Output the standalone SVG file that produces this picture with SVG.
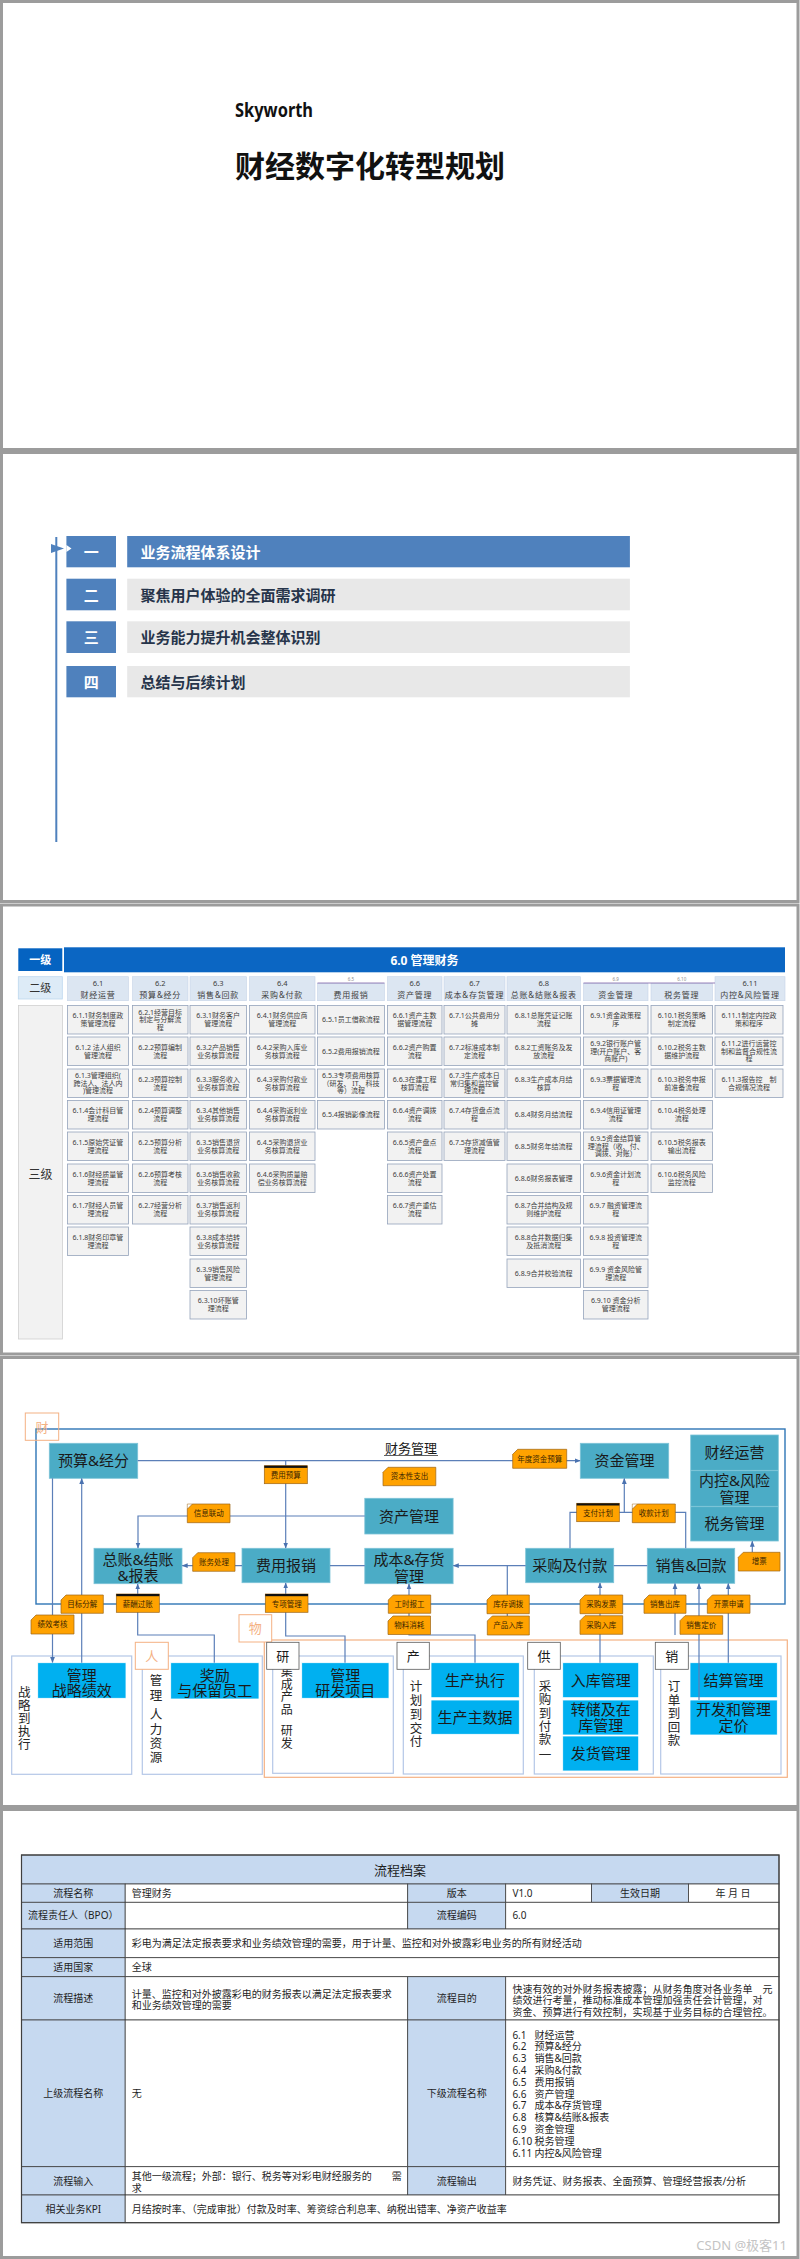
<svg xmlns="http://www.w3.org/2000/svg" width="800" height="2259" viewBox="0 0 800 2259">
<defs>
<style>
text{font-family:'Noto Sans','Noto Sans CJK SC',sans-serif;}
.slide{fill:#fff;stroke:#9c9c9c;stroke-width:3}
.cell{fill:#f2f2f2;stroke:#95a3bb;stroke-width:0.8}
.ct{font-size:7px;fill:#404040;text-anchor:middle}
.hd{fill:#dce6f2;stroke:#c6d4e8;stroke-width:0.6}
.hn{font-size:7.5px;fill:#404040;text-anchor:middle}
.hm{font-size:8px;fill:#404040;text-anchor:middle;letter-spacing:0.8px}
.hs{font-size:4.5px;fill:#8a8a8a;text-anchor:middle}
.nd{fill:#4bacc6;stroke:#7cc4d8;stroke-width:0.8}
.nt{font-size:15px;fill:#1a1a1a;text-anchor:middle}
.bb{fill:#00b0f0;stroke:#fff;stroke-width:0.8}
.tag{fill:#ffa200;stroke:#9c6417;stroke-width:0.7}
.tt{font-size:7.5px;fill:#3a2500;text-anchor:middle}
.fr{fill:none;stroke:#b4c7e7;stroke-width:1.2}
.lb{fill:#fff;stroke:#595959;stroke-width:0.8}
.lbo{fill:#fff;stroke:#f4b183;stroke-width:1}
.lt{font-size:13px;fill:#1a1a1a;text-anchor:middle}
.lto{font-size:13px;fill:#f4b183;text-anchor:middle}
.vt{font-size:12.5px;fill:#262626;text-anchor:middle}
.cn{fill:none;stroke:#5b7fb8;stroke-width:1.2}
.tl{fill:#c6d9f0;stroke:#3f3f3f;stroke-width:0.8}
.tw{fill:#fff;stroke:#3f3f3f;stroke-width:0.8}
.tx{font-size:10px;fill:#1f1f1f}
.txc{font-size:10px;fill:#1f1f1f;text-anchor:middle}
</style>
<marker id="ah" viewBox="0 0 10 10" refX="9" refY="5" markerWidth="6" markerHeight="6" markerUnits="userSpaceOnUse" orient="auto"><path d="M0,1 L10,5 L0,9 z" fill="#4a72b0"/></marker>
</defs>
<rect x="0" y="0" width="800" height="2259" fill="#fff"/>

<!-- Slide 1 -->
<g id="slide1">
<rect class="slide" x="1.5" y="1.5" width="796.5" height="448"/>
<text x="235" y="117" font-size="19" font-weight="bold" fill="#111" textLength="78" lengthAdjust="spacingAndGlyphs">Skyworth</text>
<text x="235" y="176.5" font-size="30" font-weight="bold" fill="#111">财经数字化转型规划</text>
</g>

<!-- Slide 2 -->
<g id="slide2">
<rect class="slide" x="1.5" y="452.5" width="796.5" height="449"/>
<line x1="56.3" y1="537" x2="56.3" y2="842" stroke="#4f81bd" stroke-width="2"/>
<g id="toc1">
<rect x="66.4" y="536" width="49.6" height="31.3" fill="#4f81bd"/>
<path d="M51,544 L64,548.5 L51,553 Z" fill="#4f81bd"/>
<path d="M66.4,545 L71.5,548.5 L66.4,552 Z" fill="#fff"/>
<text x="91.2" y="557.6" font-size="15" font-weight="bold" fill="#fff" text-anchor="middle">一</text>
<rect x="127.2" y="536" width="502.7" height="31.3" fill="#4f81bd"/>
<text x="140.5" y="557.6" font-size="15" font-weight="bold" fill="#fff">业务流程体系设计</text>
</g>
<g id="toc2">
<rect x="66.4" y="578.7" width="49.6" height="31.6" fill="#4f81bd"/>
<text x="91.2" y="600.5" font-size="15" font-weight="bold" fill="#fff" text-anchor="middle">二</text>
<rect x="127.2" y="578.7" width="502.7" height="31.6" fill="#e8e8e8"/>
<text x="140.5" y="600.5" font-size="15" font-weight="bold" fill="#26344a">聚焦用户体验的全面需求调研</text>
</g>
<g id="toc3">
<rect x="66.4" y="621.3" width="49.6" height="31.7" fill="#4f81bd"/>
<text x="91.2" y="643.2" font-size="15" font-weight="bold" fill="#fff" text-anchor="middle">三</text>
<rect x="127.2" y="621.3" width="502.7" height="31.7" fill="#e8e8e8"/>
<text x="140.5" y="643.2" font-size="15" font-weight="bold" fill="#26344a">业务能力提升机会整体识别</text>
</g>
<g id="toc4">
<rect x="66.4" y="666" width="49.6" height="31.3" fill="#4f81bd"/>
<text x="91.2" y="687.7" font-size="15" font-weight="bold" fill="#fff" text-anchor="middle">四</text>
<rect x="127.2" y="666" width="502.7" height="31.3" fill="#e8e8e8"/>
<text x="140.5" y="687.7" font-size="15" font-weight="bold" fill="#26344a">总结与后续计划</text>
</g>
</g>

<!-- Slide 3 -->
<g id="slide3">
<rect class="slide" x="1.5" y="905" width="796.5" height="449"/>
<g id="lv1">
<rect x="18.3" y="948.3" width="44" height="22.7" fill="#0563c1"/>
<text x="40.3" y="963.7" font-size="11" font-weight="bold" fill="#fff" text-anchor="middle">一级</text>
<rect x="64" y="947.3" width="721" height="25" fill="#0b66c3"/>
<text x="424.5" y="964.5" font-size="12" font-weight="bold" fill="#fff" text-anchor="middle">6.0 管理财务</text>
</g>
<g id="lv2">
<rect x="18.3" y="976.7" width="44" height="22.3" fill="#ddebf7" stroke="#bdd7ee" stroke-width="0.8"/>
<text x="40.3" y="991.8" font-size="11" fill="#333" text-anchor="middle">二级</text>
<rect class="hd" x="67.5" y="976.7" width="61" height="24"/><text class="hn" x="98" y="985.5">6.1</text><text class="hm" x="98" y="997.5">财经运营</text>
<rect class="hd" x="132.5" y="976.7" width="55.5" height="24"/><text class="hn" x="160.25" y="985.5">6.2</text><text class="hm" x="160.25" y="997.5">预算&amp;经分</text>
<rect class="hd" x="190" y="976.7" width="56.5" height="24"/><text class="hn" x="218.25" y="985.5">6.3</text><text class="hm" x="218.25" y="997.5">销售&amp;回款</text>
<rect class="hd" x="249.5" y="976.7" width="65.5" height="24"/><text class="hn" x="282.25" y="985.5">6.4</text><text class="hm" x="282.25" y="997.5">采购&amp;付款</text>
<rect x="317.5" y="976.7" width="67" height="6.3" fill="#fff"/><rect class="hd" x="317.5" y="983.3" width="67" height="17.4"/><text class="hs" x="351" y="981">6.5</text><text class="hm" x="351" y="997.5">费用报销</text>
<rect class="hd" x="387.5" y="976.7" width="54.5" height="24"/><text class="hn" x="414.75" y="985.5">6.6</text><text class="hm" x="414.75" y="997.5">资产管理</text>
<rect class="hd" x="444" y="976.7" width="61" height="24"/><text class="hn" x="474.5" y="985.5">6.7</text><text class="hm" x="474.5" y="997.5">成本&amp;存货管理</text>
<rect class="hd" x="507" y="976.7" width="73.5" height="24"/><text class="hn" x="543.75" y="985.5">6.8</text><text class="hm" x="543.75" y="997.5">总账&amp;结账&amp;报表</text>
<rect x="583.5" y="976.7" width="64.5" height="6.3" fill="#fff"/><rect class="hd" x="583.5" y="983.3" width="64.5" height="17.4"/><text class="hs" x="615.75" y="981">6.9</text><text class="hm" x="615.75" y="997.5">资金管理</text>
<rect x="651" y="976.7" width="61.5" height="6.3" fill="#fff"/><rect class="hd" x="651" y="983.3" width="61.5" height="17.4"/><text class="hs" x="681.75" y="981">6.10</text><text class="hm" x="681.75" y="997.5">税务管理</text>
<rect class="hd" x="715" y="976.7" width="70" height="24"/><text class="hn" x="750" y="985.5">6.11</text><text class="hm" x="750" y="997.5">内控&amp;风险管理</text>
<line x1="317.5" y1="983" x2="384.5" y2="983" stroke="#7f62a8" stroke-width="0.8"/>
<line x1="583.5" y1="983" x2="715" y2="983" stroke="#7f62a8" stroke-width="0.8"/>
</g>
<g id="lv3">
<rect x="18.5" y="1005.5" width="44" height="333.5" fill="#f2f2f2" stroke="#d0d0d0" stroke-width="0.8"/>
<text x="40.5" y="1179" font-size="12" fill="#333" text-anchor="middle">三级</text>
<!-- col 6.1 -->
<rect class="cell" x="67.5" y="1005.5" width="61" height="28.5"/><text class="ct" x="98" y="1018.25">6.1.1财务制度政<tspan x="98" dy="8">策管理流程</tspan></text>
<rect class="cell" x="67.5" y="1037" width="61" height="28.5"/><text class="ct" x="98" y="1049.75">6.1.2 法人组织<tspan x="98" dy="8">管理流程</tspan></text>
<rect class="cell" x="67.5" y="1069" width="61" height="28.5"/><text class="ct" x="98" y="1078.25">6.1.3管理组织(<tspan x="98" dy="7.5">跨法人、法人内</tspan><tspan x="98" dy="7.5">)管理流程</tspan></text>
<rect class="cell" x="67.5" y="1100.5" width="61" height="28.5"/><text class="ct" x="98" y="1113.25">6.1.4会计科目管<tspan x="98" dy="8">理流程</tspan></text>
<rect class="cell" x="67.5" y="1132" width="61" height="28.5"/><text class="ct" x="98" y="1144.75">6.1.5原始凭证管<tspan x="98" dy="8">理流程</tspan></text>
<rect class="cell" x="67.5" y="1164" width="61" height="28.5"/><text class="ct" x="98" y="1176.75">6.1.6财经质量管<tspan x="98" dy="8">理流程</tspan></text>
<rect class="cell" x="67.5" y="1195.5" width="61" height="28.5"/><text class="ct" x="98" y="1208.25">6.1.7财经人员管<tspan x="98" dy="8">理流程</tspan></text>
<rect class="cell" x="67.5" y="1227" width="61" height="28.5"/><text class="ct" x="98" y="1239.75">6.1.8财务印章管<tspan x="98" dy="8">理流程</tspan></text>
<!-- col 6.2 -->
<rect class="cell" x="132.5" y="1005.5" width="55.5" height="28.5"/><text class="ct" x="160.25" y="1014.75">6.2.1经营目标<tspan x="160.25" dy="7.5">制定与分解流</tspan><tspan x="160.25" dy="7.5">程</tspan></text>
<rect class="cell" x="132.5" y="1037" width="55.5" height="28.5"/><text class="ct" x="160.25" y="1049.75">6.2.2预算编制<tspan x="160.25" dy="8">流程</tspan></text>
<rect class="cell" x="132.5" y="1069" width="55.5" height="28.5"/><text class="ct" x="160.25" y="1081.75">6.2.3预算控制<tspan x="160.25" dy="8">流程</tspan></text>
<rect class="cell" x="132.5" y="1100.5" width="55.5" height="28.5"/><text class="ct" x="160.25" y="1113.25">6.2.4预算调整<tspan x="160.25" dy="8">流程</tspan></text>
<rect class="cell" x="132.5" y="1132" width="55.5" height="28.5"/><text class="ct" x="160.25" y="1144.75">6.2.5预算分析<tspan x="160.25" dy="8">流程</tspan></text>
<rect class="cell" x="132.5" y="1164" width="55.5" height="28.5"/><text class="ct" x="160.25" y="1176.75">6.2.6预算考核<tspan x="160.25" dy="8">流程</tspan></text>
<rect class="cell" x="132.5" y="1195.5" width="55.5" height="28.5"/><text class="ct" x="160.25" y="1208.25">6.2.7经营分析<tspan x="160.25" dy="8">流程</tspan></text>
<!-- col 6.3 -->
<rect class="cell" x="190" y="1005.5" width="56.5" height="28.5"/><text class="ct" x="218.25" y="1018.25">6.3.1财务客户<tspan x="218.25" dy="8">管理流程</tspan></text>
<rect class="cell" x="190" y="1037" width="56.5" height="28.5"/><text class="ct" x="218.25" y="1049.75">6.3.2产品销售<tspan x="218.25" dy="8">业务核算流程</tspan></text>
<rect class="cell" x="190" y="1069" width="56.5" height="28.5"/><text class="ct" x="218.25" y="1081.75">6.3.3服务收入<tspan x="218.25" dy="8">业务核算流程</tspan></text>
<rect class="cell" x="190" y="1100.5" width="56.5" height="28.5"/><text class="ct" x="218.25" y="1113.25">6.3.4其他销售<tspan x="218.25" dy="8">业务核算流程</tspan></text>
<rect class="cell" x="190" y="1132" width="56.5" height="28.5"/><text class="ct" x="218.25" y="1144.75">6.3.5销售退货<tspan x="218.25" dy="8">业务核算流程</tspan></text>
<rect class="cell" x="190" y="1164" width="56.5" height="28.5"/><text class="ct" x="218.25" y="1176.75">6.3.6销售收款<tspan x="218.25" dy="8">业务核算流程</tspan></text>
<rect class="cell" x="190" y="1195.5" width="56.5" height="28.5"/><text class="ct" x="218.25" y="1208.25">6.3.7销售返利<tspan x="218.25" dy="8">业务核算流程</tspan></text>
<rect class="cell" x="190" y="1227" width="56.5" height="28.5"/><text class="ct" x="218.25" y="1239.75">6.3.8成本结转<tspan x="218.25" dy="8">业务核算流程</tspan></text>
<rect class="cell" x="190" y="1259" width="56.5" height="28.5"/><text class="ct" x="218.25" y="1271.75">6.3.9销售风险<tspan x="218.25" dy="8">管理流程</tspan></text>
<rect class="cell" x="190" y="1290.5" width="56.5" height="28.5"/><text class="ct" x="218.25" y="1303.25">6.3.10坏账管<tspan x="218.25" dy="8">理流程</tspan></text>
<!-- col 6.4 -->
<rect class="cell" x="249.5" y="1005.5" width="65.5" height="28.5"/><text class="ct" x="282.25" y="1018.25">6.4.1财务供应商<tspan x="282.25" dy="8">管理流程</tspan></text>
<rect class="cell" x="249.5" y="1037" width="65.5" height="28.5"/><text class="ct" x="282.25" y="1049.75">6.4.2采购入库业<tspan x="282.25" dy="8">务核算流程</tspan></text>
<rect class="cell" x="249.5" y="1069" width="65.5" height="28.5"/><text class="ct" x="282.25" y="1081.75">6.4.3采购付款业<tspan x="282.25" dy="8">务核算流程</tspan></text>
<rect class="cell" x="249.5" y="1100.5" width="65.5" height="28.5"/><text class="ct" x="282.25" y="1113.25">6.4.4采购返利业<tspan x="282.25" dy="8">务核算流程</tspan></text>
<rect class="cell" x="249.5" y="1132" width="65.5" height="28.5"/><text class="ct" x="282.25" y="1144.75">6.4.5采购退货业<tspan x="282.25" dy="8">务核算流程</tspan></text>
<rect class="cell" x="249.5" y="1164" width="65.5" height="28.5"/><text class="ct" x="282.25" y="1176.75">6.4.6采购质量赔<tspan x="282.25" dy="8">偿业务核算流程</tspan></text>
<!-- col 6.5 -->
<rect class="cell" x="317.5" y="1005.5" width="67" height="28.5"/><text class="ct" x="351" y="1022.25">6.5.1员工借款流程</text>
<rect class="cell" x="317.5" y="1037" width="67" height="28.5"/><text class="ct" x="351" y="1053.75">6.5.2费用报销流程</text>
<rect class="cell" x="317.5" y="1069" width="67" height="28.5"/><text class="ct" x="351" y="1078.25">6.5.3专项费用核算<tspan x="351" dy="7.5">（研发、 IT、科技</tspan><tspan x="351" dy="7.5">等）流程</tspan></text>
<rect class="cell" x="317.5" y="1100.5" width="67" height="28.5"/><text class="ct" x="351" y="1117.25">6.5.4报销影像流程</text>
<!-- col 6.6 -->
<rect class="cell" x="387.5" y="1005.5" width="54.5" height="28.5"/><text class="ct" x="414.75" y="1018.25">6.6.1资产主数<tspan x="414.75" dy="8">据管理流程</tspan></text>
<rect class="cell" x="387.5" y="1037" width="54.5" height="28.5"/><text class="ct" x="414.75" y="1049.75">6.6.2资产购置<tspan x="414.75" dy="8">流程</tspan></text>
<rect class="cell" x="387.5" y="1069" width="54.5" height="28.5"/><text class="ct" x="414.75" y="1081.75">6.6.3在建工程<tspan x="414.75" dy="8">核算流程</tspan></text>
<rect class="cell" x="387.5" y="1100.5" width="54.5" height="28.5"/><text class="ct" x="414.75" y="1113.25">6.6.4资产调拨<tspan x="414.75" dy="8">流程</tspan></text>
<rect class="cell" x="387.5" y="1132" width="54.5" height="28.5"/><text class="ct" x="414.75" y="1144.75">6.6.5资产盘点<tspan x="414.75" dy="8">流程</tspan></text>
<rect class="cell" x="387.5" y="1164" width="54.5" height="28.5"/><text class="ct" x="414.75" y="1176.75">6.6.6资产处置<tspan x="414.75" dy="8">流程</tspan></text>
<rect class="cell" x="387.5" y="1195.5" width="54.5" height="28.5"/><text class="ct" x="414.75" y="1208.25">6.6.7资产重估<tspan x="414.75" dy="8">流程</tspan></text>
<!-- col 6.7 -->
<rect class="cell" x="444" y="1005.5" width="61" height="28.5"/><text class="ct" x="474.5" y="1018.25">6.7.1公共费用分<tspan x="474.5" dy="8">摊</tspan></text>
<rect class="cell" x="444" y="1037" width="61" height="28.5"/><text class="ct" x="474.5" y="1049.75">6.7.2标准成本制<tspan x="474.5" dy="8">定流程</tspan></text>
<rect class="cell" x="444" y="1069" width="61" height="28.5"/><text class="ct" x="474.5" y="1078.25">6.7.3生产成本日<tspan x="474.5" dy="7.5">常归集和监控管</tspan><tspan x="474.5" dy="7.5">理流程</tspan></text>
<rect class="cell" x="444" y="1100.5" width="61" height="28.5"/><text class="ct" x="474.5" y="1113.25">6.7.4存货盘点流<tspan x="474.5" dy="8">程</tspan></text>
<rect class="cell" x="444" y="1132" width="61" height="28.5"/><text class="ct" x="474.5" y="1144.75">6.7.5存货减值管<tspan x="474.5" dy="8">理流程</tspan></text>
<!-- col 6.8 -->
<rect class="cell" x="507" y="1005.5" width="73.5" height="28.5"/><text class="ct" x="543.75" y="1018.25">6.8.1总账凭证记账<tspan x="543.75" dy="8">流程</tspan></text>
<rect class="cell" x="507" y="1037" width="73.5" height="28.5"/><text class="ct" x="543.75" y="1049.75">6.8.2工资账务及发<tspan x="543.75" dy="8">放流程</tspan></text>
<rect class="cell" x="507" y="1069" width="73.5" height="28.5"/><text class="ct" x="543.75" y="1081.75">6.8.3生产成本月结<tspan x="543.75" dy="8">核算</tspan></text>
<rect class="cell" x="507" y="1100.5" width="73.5" height="28.5"/><text class="ct" x="543.75" y="1117.25">6.8.4财务月结流程</text>
<rect class="cell" x="507" y="1132" width="73.5" height="28.5"/><text class="ct" x="543.75" y="1148.75">6.8.5财务年结流程</text>
<rect class="cell" x="507" y="1164" width="73.5" height="28.5"/><text class="ct" x="543.75" y="1180.75">6.8.6财务报表管理</text>
<rect class="cell" x="507" y="1195.5" width="73.5" height="28.5"/><text class="ct" x="543.75" y="1208.25">6.8.7合并结构及规<tspan x="543.75" dy="8">则维护流程</tspan></text>
<rect class="cell" x="507" y="1227" width="73.5" height="28.5"/><text class="ct" x="543.75" y="1239.75">6.8.8合并数据归集<tspan x="543.75" dy="8">及抵消流程</tspan></text>
<rect class="cell" x="507" y="1259" width="73.5" height="28.5"/><text class="ct" x="543.75" y="1275.75">6.8.9合并校验流程</text>
<!-- col 6.9 -->
<rect class="cell" x="583.5" y="1005.5" width="64.5" height="28.5"/><text class="ct" x="615.75" y="1018.25">6.9.1资金政策程<tspan x="615.75" dy="8">序</tspan></text>
<rect class="cell" x="583.5" y="1037" width="64.5" height="28.5"/><text class="ct" x="615.75" y="1046.25">6.9.2银行账户管<tspan x="615.75" dy="7.5">理(开户账户、客</tspan><tspan x="615.75" dy="7.5">商账户)</tspan></text>
<rect class="cell" x="583.5" y="1069" width="64.5" height="28.5"/><text class="ct" x="615.75" y="1081.75">6.9.3票据管理流<tspan x="615.75" dy="8">程</tspan></text>
<rect class="cell" x="583.5" y="1100.5" width="64.5" height="28.5"/><text class="ct" x="615.75" y="1113.25">6.9.4信用证管理<tspan x="615.75" dy="8">流程</tspan></text>
<rect class="cell" x="583.5" y="1132" width="64.5" height="28.5"/><text class="ct" x="615.75" y="1141.25">6.9.5资金结算管<tspan x="615.75" dy="7.5">理流程（收、付、</tspan><tspan x="615.75" dy="7.5">调拨、对账）</tspan></text>
<rect class="cell" x="583.5" y="1164" width="64.5" height="28.5"/><text class="ct" x="615.75" y="1176.75">6.9.6资金计划流<tspan x="615.75" dy="8">程</tspan></text>
<rect class="cell" x="583.5" y="1195.5" width="64.5" height="28.5"/><text class="ct" x="615.75" y="1208.25">6.9.7 融资管理流<tspan x="615.75" dy="8">程</tspan></text>
<rect class="cell" x="583.5" y="1227" width="64.5" height="28.5"/><text class="ct" x="615.75" y="1239.75">6.9.8 投资管理流<tspan x="615.75" dy="8">程</tspan></text>
<rect class="cell" x="583.5" y="1259" width="64.5" height="28.5"/><text class="ct" x="615.75" y="1271.75">6.9.9 资金风险管<tspan x="615.75" dy="8">理流程</tspan></text>
<rect class="cell" x="583.5" y="1290.5" width="64.5" height="28.5"/><text class="ct" x="615.75" y="1303.25">6.9.10 资金分析<tspan x="615.75" dy="8">管理流程</tspan></text>
<!-- col 6.10 -->
<rect class="cell" x="651" y="1005.5" width="61.5" height="28.5"/><text class="ct" x="681.75" y="1018.25">6.10.1税务策略<tspan x="681.75" dy="8">制定流程</tspan></text>
<rect class="cell" x="651" y="1037" width="61.5" height="28.5"/><text class="ct" x="681.75" y="1049.75">6.10.2税务主数<tspan x="681.75" dy="8">据维护流程</tspan></text>
<rect class="cell" x="651" y="1069" width="61.5" height="28.5"/><text class="ct" x="681.75" y="1081.75">6.10.3税务申报<tspan x="681.75" dy="8">前准备流程</tspan></text>
<rect class="cell" x="651" y="1100.5" width="61.5" height="28.5"/><text class="ct" x="681.75" y="1113.25">6.10.4税务处理<tspan x="681.75" dy="8">流程</tspan></text>
<rect class="cell" x="651" y="1132" width="61.5" height="28.5"/><text class="ct" x="681.75" y="1144.75">6.10.5税务报表<tspan x="681.75" dy="8">输出流程</tspan></text>
<rect class="cell" x="651" y="1164" width="61.5" height="28.5"/><text class="ct" x="681.75" y="1176.75">6.10.6税务风险<tspan x="681.75" dy="8">监控流程</tspan></text>
<!-- col 6.11 -->
<rect class="cell" x="715" y="1005.5" width="68" height="28.5"/><text class="ct" x="749" y="1018.25">6.11.1制定内控政<tspan x="749" dy="8">策和程序</tspan></text>
<rect class="cell" x="715" y="1037" width="68" height="28.5"/><text class="ct" x="749" y="1046.25">6.11.2进行运营控<tspan x="749" dy="7.5">制和监督合规性流</tspan><tspan x="749" dy="7.5">程</tspan></text>
<rect class="cell" x="715" y="1069" width="68" height="28.5"/><text class="ct" x="749" y="1081.75">6.11.3报告控　制<tspan x="749" dy="8">合规情况流程</tspan></text>
</g>
</g>

<!-- Slide 4 -->
<g id="slide4">
<rect class="slide" x="1.5" y="1357.5" width="796.5" height="449"/>
<rect x="36" y="1429" width="749" height="175" fill="none" stroke="#2e75b6" stroke-width="1.4"/>
<g id="lbl-cai"><rect x="25.3" y="1413" width="33.4" height="27.3" fill="none" stroke="#f4b183" stroke-width="1"/><text class="lto" x="42" y="1431.5">财</text></g>
<text x="411" y="1453" font-size="13" fill="#1a1a1a" text-anchor="middle">财务管理</text>
<line x1="384" y1="1455.5" x2="438" y2="1455.5" stroke="#1a1a1a" stroke-width="0.7"/>

<!-- lower frames -->
<rect x="264.3" y="1640" width="523" height="137.3" fill="none" stroke="#f4b183" stroke-width="1.2"/>
<g id="f-strategy"><rect class="fr" x="11.7" y="1656" width="120" height="118.3"/>
<text class="vt"><tspan x="24.3" y="1697">战</tspan><tspan x="24.3" y="1710">略</tspan><tspan x="24.3" y="1723">到</tspan><tspan x="24.3" y="1736">执</tspan><tspan x="24.3" y="1749">行</tspan></text>
<rect class="bb" x="37.7" y="1662.7" width="88.3" height="35.6"/><text class="nt" x="81.8" y="1680.5">管理<tspan x="81.8" y="1696">战略绩效</tspan></text></g>
<g id="f-hr"><rect class="fr" x="142.3" y="1656" width="120" height="118.3"/>
<text class="vt"><tspan x="156" y="1684.5">管</tspan><tspan x="156" y="1699.5">理</tspan><tspan x="156" y="1719">人</tspan><tspan x="156" y="1733.5">力</tspan><tspan x="156" y="1748">资</tspan><tspan x="156" y="1762">源</tspan></text>
<rect class="bb" x="170.7" y="1662.7" width="88.3" height="36.3"/><text class="nt" x="214.8" y="1680.5">奖励<tspan x="214.8" y="1696">与保留员工</tspan></text></g>
<g id="lbl-ren"><rect class="lbo" x="135.3" y="1642.3" width="33" height="27"/><text class="lto" x="151.8" y="1660.5">人</text></g>
<g id="lbl-wu"><rect class="lbo" x="239" y="1614.7" width="32.7" height="27.3"/><text class="lto" x="255.3" y="1633">物</text></g>
<g id="f-rd"><rect class="fr" x="272.7" y="1656" width="120.6" height="117.3"/>
<text class="vt" style="font-size:12px"><tspan x="286.7" y="1676">集</tspan><tspan x="286.7" y="1688.5">成</tspan><tspan x="286.7" y="1701">产</tspan><tspan x="286.7" y="1713.5">品</tspan><tspan x="286.7" y="1735">研</tspan><tspan x="286.7" y="1748">发</tspan></text>
<rect class="bb" x="301.7" y="1662.7" width="87.3" height="35.6"/><text class="nt" x="345.3" y="1680.5">管理<tspan x="345.3" y="1696">研发项目</tspan></text></g>
<g id="lbl-yan"><rect class="lb" x="266.7" y="1642.3" width="32.3" height="27"/><text class="lt" x="282.8" y="1660.5">研</text></g>
<g id="f-plan"><rect class="fr" x="403.3" y="1656" width="120" height="118"/>
<text class="vt"><tspan x="416" y="1691">计</tspan><tspan x="416" y="1704.5">划</tspan><tspan x="416" y="1719">到</tspan><tspan x="416" y="1732.5">交</tspan><tspan x="416" y="1746">付</tspan></text>
<rect class="bb" x="431" y="1662.7" width="88.3" height="35"/><text class="nt" x="475.1" y="1685.5">生产执行</text>
<rect class="bb" x="431" y="1700" width="88.3" height="34.3"/><text class="nt" x="475.1" y="1722.5">生产主数据</text></g>
<g id="lbl-chan"><rect class="lb" x="397" y="1642.3" width="32.3" height="27"/><text class="lt" x="413.2" y="1660.5">产</text></g>
<g id="f-proc"><rect class="fr" x="534.3" y="1656" width="119" height="118"/>
<text class="vt"><tspan x="545" y="1691">采</tspan><tspan x="545" y="1704">购</tspan><tspan x="545" y="1717.5">到</tspan><tspan x="545" y="1731">付</tspan><tspan x="545" y="1744">款</tspan><tspan x="545" y="1758">—</tspan></text>
<rect class="bb" x="562.7" y="1662.7" width="76" height="35"/><text class="nt" x="600.7" y="1685.5">入库管理</text>
<rect class="bb" x="562.7" y="1700" width="76" height="35"/><text class="nt" x="600.7" y="1715">转储及在<tspan x="600.7" y="1731">库管理</tspan></text>
<rect class="bb" x="562.7" y="1736" width="76" height="35"/><text class="nt" x="600.7" y="1758.5">发货管理</text></g>
<g id="lbl-gong"><rect class="lb" x="527.7" y="1642.3" width="32.6" height="27"/><text class="lt" x="544" y="1660.5">供</text></g>
<g id="f-order"><rect class="fr" x="660.7" y="1656" width="120.3" height="118"/>
<text class="vt"><tspan x="674" y="1691">订</tspan><tspan x="674" y="1704.5">单</tspan><tspan x="674" y="1718">到</tspan><tspan x="674" y="1731.5">回</tspan><tspan x="674" y="1745">款</tspan></text>
<rect class="bb" x="690" y="1662.7" width="87.3" height="35"/><text class="nt" x="733.6" y="1685.5">结算管理</text>
<rect class="bb" x="690" y="1700" width="87.3" height="35"/><text class="nt" x="733.6" y="1715">开发和管理<tspan x="733.6" y="1731">定价</tspan></text></g>
<g id="lbl-xiao"><rect class="lb" x="655.3" y="1642.3" width="33" height="27"/><text class="lt" x="671.8" y="1660.5">销</text></g>

<!-- main nodes -->
<g id="n-budget"><rect class="nd" x="49.3" y="1443.3" width="88.4" height="35"/><text class="nt" x="93.5" y="1466.3">预算&amp;经分</text></g>
<g id="n-gl"><rect class="nd" x="94" y="1548.3" width="88" height="35.4"/><text class="nt" x="138" y="1565">总账&amp;结账<tspan x="138" y="1580.5">&amp;报表</tspan></text></g>
<g id="n-expense"><rect class="nd" x="242" y="1548.3" width="88" height="34.4"/><text class="nt" x="286" y="1571">费用报销</text></g>
<g id="n-asset"><rect class="nd" x="364.8" y="1498.3" width="88.3" height="35.7"/><text class="nt" x="409" y="1521.5">资产管理</text></g>
<g id="n-cost"><rect class="nd" x="364.8" y="1548.3" width="88.3" height="35.4"/><text class="nt" x="409" y="1565">成本&amp;存货<tspan x="409" y="1581.5">管理</tspan></text></g>
<g id="n-purchase"><rect class="nd" x="525.7" y="1548.3" width="88" height="34.4"/><text class="nt" x="569.7" y="1571">采购及付款</text></g>
<g id="n-sales"><rect class="nd" x="647.3" y="1548.3" width="87.4" height="35"/><text class="nt" x="691" y="1571">销售&amp;回款</text></g>
<g id="n-fund"><rect class="nd" x="580.3" y="1443.3" width="88.4" height="35"/><text class="nt" x="624.5" y="1466.3">资金管理</text></g>
<g id="n-ops"><rect class="nd" x="690.7" y="1435" width="87.6" height="35.3"/><text class="nt" x="734.5" y="1458">财经运营</text></g>
<g id="n-risk"><rect class="nd" x="690.7" y="1470.7" width="87.6" height="35.6"/><text class="nt" x="734.5" y="1486">内控&amp;风险<tspan x="734.5" y="1502.5">管理</tspan></text></g>
<g id="n-tax"><rect class="nd" x="690.7" y="1506.7" width="87.6" height="34.3"/><text class="nt" x="734.5" y="1529.3">税务管理</text></g>

<!-- connectors -->
<g id="connectors">
<path class="cn" d="M137.7,1460.7 H580" marker-end="url(#ah)"/>
<path class="cn" d="M285.7,1460.7 V1548" marker-end="url(#ah)"/>
<path class="cn" d="M364.8,1516 H138 V1548" marker-end="url(#ah)"/>
<path class="cn" d="M242,1565.7 H182.3" marker-end="url(#ah)"/>
<path class="cn" d="M330,1565.7 H364.8"/>
<path class="cn" d="M525.7,1565.7 H453.4" marker-end="url(#ah)"/>
<path class="cn" d="M613.7,1565.7 H647.3"/>
<path class="cn" d="M570,1548.3 V1512.3 H685.7 V1548.3"/>
<path class="cn" d="M624.3,1512.3 V1478.6" marker-end="url(#ah)"/>
<path class="cn" d="M752.3,1552.3 V1541.3" marker-end="url(#ah)"/>
<path class="cn" d="M52.5,1478.3 V1662.4" marker-end="url(#ah)"/>
<path class="cn" d="M81.7,1662.7 V1478.6" marker-end="url(#ah)"/>
<path class="cn" d="M214.3,1662.7 V1635 H137.7 V1584" marker-end="url(#ah)"/>
<path class="cn" d="M345,1662.7 V1636 H285.7 V1583" marker-end="url(#ah)"/>
<path class="cn" d="M475,1662.7 V1635 H409 V1584" marker-end="url(#ah)"/>
<path class="cn" d="M507.3,1565.7 V1635"/>
<path class="cn" d="M600,1662.7 V1583" marker-end="url(#ah)"/>
<path class="cn" d="M675,1635 V1583.6" marker-end="url(#ah)"/>
<path class="cn" d="M699,1700 V1583.6" marker-end="url(#ah)"/>
<path class="cn" d="M728.3,1662.7 V1583.6" marker-end="url(#ah)"/>
</g>

<!-- tags -->
<g id="tags">
<g id="t1"><rect class="tag" x="264.3" y="1465.7" width="43" height="18"/><rect x="264.3" y="1465.7" width="43" height="2.2" fill="#111"/><text class="tt" x="285.8" y="1478.3">费用预算</text></g>
<g id="t2"><path class="tag" d="M388,1467.3 H435.8 V1485.7 H383 V1472.3 Z"/><text class="tt" x="409.4" y="1479.3">资本性支出</text></g>
<g id="t3"><path class="tag" d="M192.3,1504 H230 V1522.7 H187.3 V1509 Z"/><path d="M187.3,1504 L192.3,1504 L187.3,1509 Z" fill="#fff" stroke="#9c6417" stroke-width="0.5"/><text class="tt" x="208.7" y="1516">信息联动</text></g>
<g id="t4"><path class="tag" d="M197.7,1552.7 H235 V1571.3 H192.7 V1557.7 Z"/><text class="tt" x="213.9" y="1564.8">账务处理</text></g>
<g id="t5"><path class="tag" d="M517.7,1449.3 H566.7 V1468.3 H512.7 V1454.3 Z"/><text class="tt" x="539.7" y="1461.5">年度资金预算</text></g>
<g id="t6"><rect class="tag" x="576.7" y="1503.3" width="42.6" height="18.4"/><rect x="576.7" y="1503.3" width="42.6" height="2.2" fill="#111"/><text class="tt" x="598" y="1515.8">支付计划</text></g>
<g id="t7"><path class="tag" d="M637.3,1504 H675.3 V1522.7 H632.3 V1509 Z"/><path d="M632.3,1504 L637.3,1504 L632.3,1509 Z" fill="#fff" stroke="#9c6417" stroke-width="0.5"/><text class="tt" x="653.8" y="1516">收款计划</text></g>
<g id="t8"><path class="tag" d="M743.3,1552.3 H780 V1571 H738.3 V1557.3 Z"/><text class="tt" x="759.2" y="1564.4">增票</text></g>
<g id="t9"><path class="tag" d="M66,1595 H103.3 V1613.3 H61 V1600 Z"/><text class="tt" x="82.2" y="1607">目标分解</text></g>
<g id="t10"><rect class="tag" x="116.3" y="1594" width="43" height="18.3"/><rect x="116.3" y="1594" width="43" height="2.2" fill="#111"/><text class="tt" x="137.8" y="1606.5">薪酬过账</text></g>
<g id="t11"><path class="tag" d="M36,1615 H74 V1634 H31 V1620 Z"/><text class="tt" x="52.5" y="1627.3">绩效考核</text></g>
<g id="t12"><rect class="tag" x="265.3" y="1594" width="42.7" height="18.3"/><rect x="265.3" y="1594" width="42.7" height="2.2" fill="#111"/><text class="tt" x="286.7" y="1606.5">专项管理</text></g>
<g id="t13"><path class="tag" d="M393.3,1595 H430.7 V1613.3 H388.3 V1600 Z"/><text class="tt" x="409.5" y="1607">工时报工</text></g>
<g id="t14"><path class="tag" d="M393,1616 H430.5 V1634.5 H388 V1621 Z"/><text class="tt" x="409.2" y="1628">物料消耗</text></g>
<g id="t15"><path class="tag" d="M492,1595 H529.3 V1613.7 H487 V1600 Z"/><text class="tt" x="508.2" y="1607">库存调拨</text></g>
<g id="t16"><path class="tag" d="M492.3,1616 H529.3 V1635 H487.3 V1621 Z"/><text class="tt" x="508.3" y="1628.3">产品入库</text></g>
<g id="t17"><path class="tag" d="M585,1595 H622.7 V1613.7 H580 V1600 Z"/><text class="tt" x="601.3" y="1607">采购发票</text></g>
<g id="t18"><path class="tag" d="M585,1615.7 H622.7 V1634.3 H580 V1620.7 Z"/><text class="tt" x="601.3" y="1627.8">采购入库</text></g>
<g id="t19"><path class="tag" d="M649,1595 H686 V1613.3 H644 V1600 Z"/><text class="tt" x="665" y="1607">销售出库</text></g>
<g id="t20"><path class="tag" d="M712.3,1595 H750 V1613.3 H707.3 V1600 Z"/><text class="tt" x="728.7" y="1607">开票申请</text></g>
<g id="t21"><path class="tag" d="M685,1615.7 H722.7 V1634.3 H680 V1620.7 Z"/><text class="tt" x="701.3" y="1627.8">销售定价</text></g>
</g>
</g>

<!-- Slide 5 -->
<g id="slide5">
<rect class="slide" x="1.5" y="1809.5" width="796.5" height="448"/>
<rect class="tl" x="21.5" y="1855" width="757.5" height="29"/>
<text x="400" y="1874.5" font-size="13" fill="#1f1f1f" text-anchor="middle">流程档案</text>
<rect class="tl" x="21.5" y="1884" width="103.7" height="18.3"/><text class="txc" x="73.3" y="1896.8">流程名称</text>
<rect class="tw" x="125.2" y="1884" width="282.5" height="18.3"/><text class="tx" x="131.8" y="1896.8">管理财务</text>
<rect class="tl" x="407.7" y="1884" width="98" height="18.3"/><text class="txc" x="456.7" y="1896.8">版本</text>
<rect class="tw" x="505.7" y="1884" width="85.9" height="18.3"/><text class="tx" x="512.4" y="1896.8">V1.0</text>
<rect class="tl" x="591.6" y="1884" width="97" height="18.3"/><text class="txc" x="640.1" y="1896.8">生效日期</text>
<rect class="tw" x="688.6" y="1884" width="90.4" height="18.3"/><text class="txc" x="733" y="1896.8">年  月  日</text>
<rect class="tl" x="21.5" y="1902.3" width="103.7" height="26.7"/><text class="txc" x="73.3" y="1919.3">流程责任人（BPO）</text>
<rect class="tw" x="125.2" y="1902.3" width="282.5" height="26.7"/>
<rect class="tl" x="407.7" y="1902.3" width="98" height="26.7"/><text class="txc" x="456.7" y="1919.3">流程编码</text>
<rect class="tw" x="505.7" y="1902.3" width="273.3" height="26.7"/><text class="tx" x="512.4" y="1919.3">6.0</text>
<rect class="tl" x="21.5" y="1929" width="103.7" height="28.7"/><text class="txc" x="73.3" y="1947">适用范围</text>
<rect class="tw" x="125.2" y="1929" width="653.8" height="28.7"/><text class="tx" x="131.8" y="1947">彩电为满足法定报表要求和业务绩效管理的需要，用于计量、监控和对外披露彩电业务的所有财经活动</text>
<rect class="tl" x="21.5" y="1957.7" width="103.7" height="19"/><text class="txc" x="73.3" y="1970.8">适用国家</text>
<rect class="tw" x="125.2" y="1957.7" width="653.8" height="19"/><text class="tx" x="131.8" y="1970.8">全球</text>
<rect class="tl" x="21.5" y="1976.7" width="103.7" height="43.3"/><text class="txc" x="73.3" y="2002">流程描述</text>
<rect class="tw" x="125.2" y="1976.7" width="282.5" height="43.3"/><text class="tx" x="131.8" y="1997.5">计量、监控和对外披露彩电的财务报表以满足法定报表要求<tspan x="131.8" y="2009">和业务绩效管理的需要</tspan></text>
<rect class="tl" x="407.7" y="1976.7" width="98" height="43.3"/><text class="txc" x="456.7" y="2002">流程目的</text>
<rect class="tw" x="505.7" y="1976.7" width="273.3" height="43.3"/><text class="tx" x="512.4" y="1992.5">快速有效的对外财务报表披露；从财务角度对各业务单　元<tspan x="512.4" y="2004">绩效进行考量，推动标准成本管理加强责任会计管理，对</tspan><tspan x="512.4" y="2015.5">资金、预算进行有效控制，实现基于业务目标的合理管控。</tspan></text>
<rect class="tl" x="21.5" y="2020" width="103.7" height="146.7"/><text class="txc" x="73.3" y="2097">上级流程名称</text>
<rect class="tw" x="125.2" y="2020" width="282.5" height="146.7"/><text class="tx" x="131.8" y="2097">无</text>
<rect class="tl" x="407.7" y="2020" width="98" height="146.7"/><text class="txc" x="456.7" y="2097">下级流程名称</text>
<rect class="tw" x="505.7" y="2020" width="273.3" height="146.7"/>
<text class="tx"><tspan x="512.4" y="2038.5">6.1</tspan><tspan x="534.5" y="2038.5">财经运营</tspan><tspan x="512.4" y="2050.3">6.2</tspan><tspan x="534.5" y="2050.3">预算&amp;经分</tspan><tspan x="512.4" y="2062.1">6.3</tspan><tspan x="534.5" y="2062.1">销售&amp;回款</tspan><tspan x="512.4" y="2073.9">6.4</tspan><tspan x="534.5" y="2073.9">采购&amp;付款</tspan><tspan x="512.4" y="2085.7">6.5</tspan><tspan x="534.5" y="2085.7">费用报销</tspan><tspan x="512.4" y="2097.5">6.6</tspan><tspan x="534.5" y="2097.5">资产管理</tspan><tspan x="512.4" y="2109.3">6.7</tspan><tspan x="534.5" y="2109.3">成本&amp;存货管理</tspan><tspan x="512.4" y="2121.1">6.8</tspan><tspan x="534.5" y="2121.1">核算&amp;结账&amp;报表</tspan><tspan x="512.4" y="2132.9">6.9</tspan><tspan x="534.5" y="2132.9">资金管理</tspan><tspan x="512.4" y="2144.7">6.10</tspan><tspan x="534.5" y="2144.7">税务管理</tspan><tspan x="512.4" y="2156.5">6.11</tspan><tspan x="534.5" y="2156.5">内控&amp;风险管理</tspan></text>
<rect class="tl" x="21.5" y="2166.7" width="103.7" height="28.3"/><text class="txc" x="73.3" y="2184.5">流程输入</text>
<rect class="tw" x="125.2" y="2166.7" width="282.5" height="28.3"/><text class="tx" x="131.8" y="2180">其他一级流程；外部：银行、税务等对彩电财经服务的　　需<tspan x="131.8" y="2192">求</tspan></text>
<rect class="tl" x="407.7" y="2166.7" width="98" height="28.3"/><text class="txc" x="456.7" y="2184.5">流程输出</text>
<rect class="tw" x="505.7" y="2166.7" width="273.3" height="28.3"/><text class="tx" x="512.4" y="2184.5">财务凭证、财务报表、全面预算、管理经营报表/分析</text>
<rect class="tl" x="21.5" y="2195" width="103.7" height="27.7"/><text class="txc" x="73.3" y="2212.5">相关业务KPI</text>
<rect class="tw" x="125.2" y="2195" width="653.8" height="27.7"/><text class="tx" x="131.8" y="2212.5">月结按时率、（完成审批）付款及时率、筹资综合利息率、纳税出错率、净资产收益率</text>
<rect x="21.5" y="1855" width="757.5" height="367.7" fill="none" stroke="#3f3f3f" stroke-width="1.2"/>
<text x="787" y="2249.5" font-size="13" fill="#c4c4c4" text-anchor="end">CSDN @极客11</text>
</g>
</svg>
